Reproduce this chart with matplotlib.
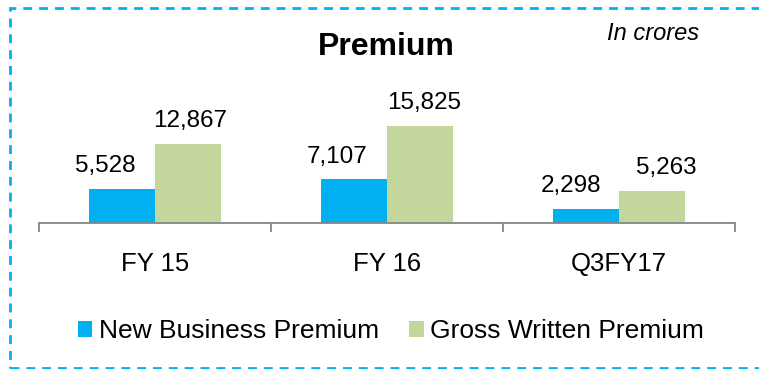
import matplotlib.pyplot as plt
from matplotlib.patches import Rectangle

plt.rcParams['font.family'] = ['Liberation Sans', 'DejaVu Sans']

categories = ["FY 15", "FY 16", "Q3FY17"]
new_business = [5528, 7107, 2298]
gross_written = [12867, 15825, 5263]
series_names = ["New Business Premium", "Gross Written Premium"]

BLUE = "#00B0F0"
GREEN = "#C3D69B"
AXIS_GRAY = "#868686"

# hand-placed label nudges (pixels, horizontal)
nudge_nb = [-17, -17, -15]
nudge_gw = [2, 4, 14]

W, H = 759, 369
fig = plt.figure(figsize=(W / 100, H / 100), dpi=100)

# plot area in pixel terms: baseline at y=223, from x=39 to x=735
ax = fig.add_axes([39 / W, (H - 223) / H, 696 / W, (223 - 40) / H])

x = list(range(len(categories)))
bw = 0.284
b1 = ax.bar([i - bw / 2 for i in x], new_business, width=bw, color=BLUE, label=series_names[0])
b2 = ax.bar([i + bw / 2 for i in x], gross_written, width=bw, color=GREEN, label=series_names[1])

for bars, vals, nudges in ((b1, new_business, nudge_nb), (b2, gross_written, nudge_gw)):
    for rect, v, dx in zip(bars, vals, nudges):
        ax.annotate(f"{v:,}", (rect.get_x() + rect.get_width() / 2, v),
                    xytext=(dx * 0.72, 12), textcoords="offset points",
                    ha="center", va="baseline", fontsize=17.5, color="black")

ax.set_xlim(-0.5, len(categories) - 0.5)
ax.set_ylim(0, 29750)
ax.set_xticks(x)
ax.set_xticklabels(categories, fontsize=18.5)
ax.set_xticks([i - 0.5 for i in range(len(categories) + 1)], minor=True)
ax.tick_params(axis="x", which="major", length=0, pad=21)
ax.tick_params(axis="x", which="minor", length=6.5, width=1.3, color=AXIS_GRAY, direction="out")
ax.set_yticks([])
for s in ("top", "left", "right"):
    ax.spines[s].set_visible(False)
ax.spines["bottom"].set_color(AXIS_GRAY)
ax.spines["bottom"].set_linewidth(1.3)

fig.text(386 / W, 1 - 47 / H, "Premium", ha="center", va="center",
         fontsize=23, fontweight="bold")
fig.text(653 / W, 1 - 33 / H, "In crores", ha="center", va="center",
         fontsize=17, style="italic")

fig.legend(handles=[b1, b2], labels=series_names, loc="center",
           bbox_to_anchor=(391 / W, 1 - 331 / H), ncol=2, frameon=False,
           fontsize=19, handlelength=0.55, handleheight=0.55,
           handletextpad=0.25, columnspacing=1.15, borderpad=0)

# dashed frame around the whole chart (right edge runs off the canvas)
fig.patches.append(Rectangle((10 / W, 1 / H), 760 / W, 360 / H, transform=fig.transFigure,
                             fill=False, edgecolor=BLUE, linewidth=2.0,
                             linestyle=(0, (3.2, 2.5))))

fig.savefig("out.png", dpi=100)
